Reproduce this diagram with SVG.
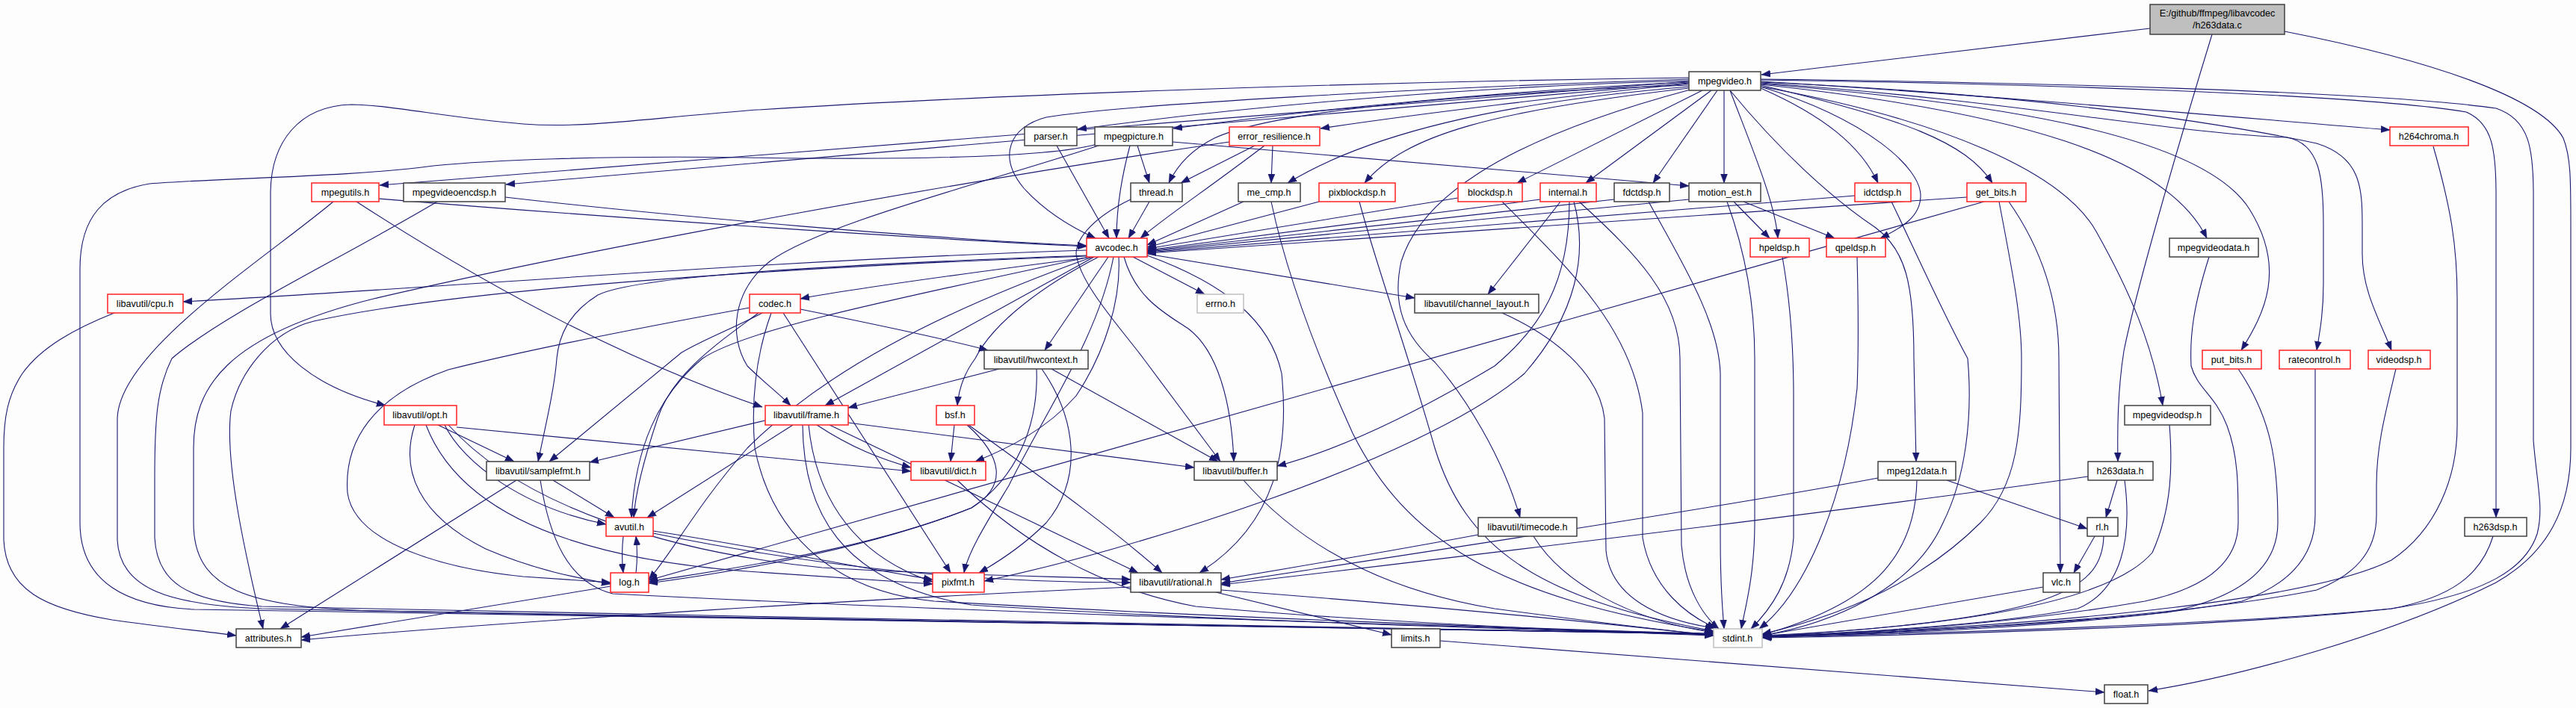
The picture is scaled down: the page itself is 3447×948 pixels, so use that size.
<svg xmlns="http://www.w3.org/2000/svg" width="3447" height="948" viewBox="0 0 3447 948">
<style>
.e path{fill:none;stroke:#191970;stroke-width:1.1;marker-end:url(#a)}
.n rect{fill:#ffffff;stroke:#404040;stroke-width:1.5}
.r rect{stroke:#ff2020}
.g rect{stroke:#bfbfbf}
.root rect{fill:#bfbfbf}
text{font-family:"Liberation Sans",Arial,sans-serif;font-size:12.6px;text-anchor:middle;fill:#000}
</style>
<defs>
<marker id="a" markerUnits="userSpaceOnUse" markerWidth="13" markerHeight="11" refX="12" refY="5" orient="auto"><path d="M0,0.5 L12,5 L0,9.5 z" fill="#191970" stroke="#191970" stroke-width="0.5"/></marker>
</defs>
<rect width="3447" height="948" fill="#fcfdfc"/>
<g id="edges" class="e">
<path d="M2877,38 L2357,100"/>
<path d="M2960,46 C2925,160 2860,380 2842,470 C2834,520 2833,570 2834,618"/>
<path d="M3057,42 C3250,80 3400,130 3430,185 C3440,210 3440,240 3440,300 L3440,600 C3440,680 3410,740 3340,780 C3200,850 3000,905 2875,925"/>
<path d="M2260,108 C2000,115 1700,138 1442,173"/>
<path d="M2260,110 C2000,122 1750,148 1570,172"/>
<path d="M2260,112 C2100,128 1900,152 1767,172"/>
<path d="M2260,114 C1950,125 1700,150 1625,185 C1595,200 1575,222 1564,245"/>
<path d="M2260,116 C2000,138 1830,180 1723,245"/>
<path d="M2260,118 C2000,148 1880,180 1826,245"/>
<path d="M2278,121 L2030,245"/>
<path d="M2290,121 L2122,245"/>
<path d="M2298,121 L2212,245"/>
<path d="M2307,121 L2307,245"/>
<path d="M2260,106 C1900,118 1500,140 1400,157 C1350,170 1335,210 1370,252 C1400,285 1435,305 1466,319"/>
<path d="M2260,104 C1800,110 1300,128 1000,148 C850,160 780,172 700,166 C600,158 520,140 470,140 C400,142 362,190 362,260 L362,420 C362,470 420,518 516,543"/>
<path d="M2260,109 L508,248"/>
<path d="M2260,111 L677,247"/>
<path d="M2262,120 C2000,190 1900,270 1875,350 C1862,410 1880,450 1920,485 C1960,530 2010,610 2034,693"/>
<path d="M2315,121 C2345,200 2375,270 2379,319"/>
<path d="M2356,118 C2440,155 2490,195 2513,245"/>
<path d="M2356,116 C2500,160 2570,225 2570,262 C2570,290 2545,305 2516,319"/>
<path d="M2356,114 C2550,160 2630,190 2666,245"/>
<path d="M2315,121 C2380,200 2450,265 2510,305 C2550,335 2561,380 2561,480 L2564,618"/>
<path d="M2356,116 C2600,160 2760,230 2805,310 C2850,390 2880,460 2894,543"/>
<path d="M2356,113 C2700,150 2900,210 2953,319"/>
<path d="M2356,112 C2700,140 2950,185 3010,280 C3060,360 3030,420 2999,469"/>
<path d="M2356,111 C2700,135 2900,178 3060,184 C3105,192 3109,240 3109,300 L3109,380 C3109,420 3104,445 3100,469"/>
<path d="M2356,110 C2700,125 2950,160 3100,192 C3158,210 3161,250 3161,300 L3161,340 C3161,390 3185,430 3200,469"/>
<path d="M2356,109 C2700,130 3000,158 3198,174"/>
<path d="M2356,107 C2700,112 3150,125 3300,150 C3335,165 3340,200 3340,260 L3340,693"/>
<path d="M2356,106 C2700,110 3180,122 3340,145 C3385,160 3390,200 3390,260 L3390,590 C3395,650 3404,680 3395,715 C3380,760 3330,795 3200,815 C3000,835 2600,848 2359,853"/>
<path d="M1414,195 L1484,319"/>
<path d="M1522,195 L1538,245"/>
<path d="M1512,195 C1500,240 1494,280 1494,319"/>
<path d="M1569,190 L2260,249"/>
<path d="M1468,193 C1400,212 1200,214 1000,211 C800,208 650,215 580,222 C470,237 300,238 200,246 C140,256 107,290 107,360 L107,700 C107,780 170,812 260,816 C600,825 1500,837 2293,848"/>
<path d="M1470,195 C1300,250 1100,300 1030,350 C980,390 975,450 1000,490 C1020,510 1040,525 1058,543"/>
<path d="M1679,195 L1580,245"/>
<path d="M1703,195 L1701,245"/>
<path d="M1692,195 C1620,250 1560,290 1526,319"/>
<path d="M1645,190 C1300,240 800,330 500,400 C300,450 259,520 259,600 L259,700 C259,790 330,812 500,818 C1000,828 1800,840 2293,849"/>
<path d="M1538,270 L1510,319"/>
<path d="M1513,267 C1465,290 1440,318 1440,340 C1445,380 1500,440 1530,480 L1633,618"/>
<path d="M1664,270 L1535,328"/>
<path d="M1701,270 C1720,360 1760,470 1810,580 C1880,720 2000,800 2293,846"/>
<path d="M1765,270 L1535,331"/>
<path d="M1819,270 C1840,350 1880,460 1920,600 C1960,730 2050,800 2293,845"/>
<path d="M1951,265 L1535,333"/>
<path d="M2010,270 C2100,360 2184,440 2198,553 L2198,720 C2210,790 2260,825 2296,841"/>
<path d="M2061,267 L1535,335"/>
<path d="M2088,270 L1991,394"/>
<path d="M2100,270 C2100,380 2060,440 2000,490 C1900,550 1800,600 1709,624"/>
<path d="M2106,270 C2125,340 2110,420 2040,500 C1900,620 1500,740 1317,778"/>
<path d="M2113,270 C2190,340 2248,400 2248,480 L2250,730 C2255,790 2280,825 2300,842"/>
<path d="M2160,267 L1535,336"/>
<path d="M2206,270 C2250,350 2300,430 2302,500 L2302,720 C2302,790 2305,815 2307,842"/>
<path d="M2260,267 L1535,337"/>
<path d="M2320,270 L2368,319"/>
<path d="M2333,270 L2455,319"/>
<path d="M2311,270 C2340,350 2348,420 2348,480 L2348,700 C2348,770 2335,815 2330,842"/>
<path d="M2482,262 L1535,338"/>
<path d="M2531,270 C2560,330 2600,420 2633,480 C2640,560 2630,640 2600,700 C2560,790 2450,835 2358,851"/>
<path d="M2632,264 L1535,339"/>
<path d="M2688,270 C2730,330 2755,400 2755,480 L2757,767"/>
<path d="M2675,270 C2690,350 2705,420 2705,480 C2705,580 2700,650 2650,700 C2560,790 2440,830 2358,849"/>
<path d="M2655,270 L868,777"/>
<path d="M2385,344 C2395,400 2400,460 2400,530 L2400,720 C2395,780 2370,815 2343,842"/>
<path d="M2485,344 C2487,420 2487,470 2485,520 C2470,660 2420,790 2354,842"/>
<path d="M1454,335 C1000,350 600,385 245,404"/>
<path d="M1462,344 C1300,365 1150,385 1071,400"/>
<path d="M1516,344 L1612,394"/>
<path d="M1535,340 L1893,399"/>
<path d="M1483,344 L1398,469"/>
<path d="M1454,342 C1100,355 850,370 800,395 C760,420 748,450 745,480 C742,520 730,570 720,618"/>
<path d="M1464,344 L1104,543"/>
<path d="M1470,344 C1400,380 1330,430 1305,480 C1290,500 1283,520 1281,543"/>
<path d="M1497,344 C1500,400 1480,470 1440,530 C1400,575 1350,600 1305,618"/>
<path d="M1504,344 C1520,400 1560,420 1590,440 C1630,470 1648,540 1651,618"/>
<path d="M1535,342 C1640,380 1700,430 1715,500 C1725,600 1710,700 1605,767"/>
<path d="M1490,344 C1470,450 1400,550 1350,650 C1320,700 1295,740 1290,767"/>
<path d="M1458,344 C1200,400 1000,440 940,480 C880,530 850,600 845,693"/>
<path d="M1462,344 C1250,420 1100,500 1000,600 C930,680 900,740 868,776"/>
<path d="M1454,343 C1000,360 600,390 420,430 C360,445 320,500 309,550 C300,620 330,750 352,842"/>
<path d="M1020,419 C980,440 940,455 912,472 L735,618"/>
<path d="M1015,419 C960,460 900,500 880,560 C860,620 850,660 848,693"/>
<path d="M1003,412 C850,440 700,470 600,495 C500,530 460,590 465,660 C475,730 600,762 700,772 L817,780"/>
<path d="M1048,419 L1272,767"/>
<path d="M1071,414 C1150,430 1250,450 1322,469"/>
<path d="M1032,419 C1010,480 1005,540 1010,600 C1030,700 1100,790 1250,805 C1600,825 2000,840 2293,849"/>
<path d="M1337,494 L1135,546"/>
<path d="M1407,494 L1630,618"/>
<path d="M1394,494 C1440,560 1450,640 1400,700 C1370,730 1340,750 1310,767"/>
<path d="M1387,494 C1390,570 1360,640 1300,680 C1150,740 950,765 868,779"/>
<path d="M1024,563 L789,619"/>
<path d="M1061,569 L866,693"/>
<path d="M1093,569 C1140,600 1180,615 1219,626"/>
<path d="M1135,566 L1598,626"/>
<path d="M1110,569 L1523,767"/>
<path d="M1082,569 C1090,650 1130,740 1248,779"/>
<path d="M1074,569 C1075,680 1120,780 1300,810 C1600,830 2000,842 2293,850"/>
<path d="M1277,569 L1272,618"/>
<path d="M1296,569 C1380,630 1480,700 1555,767"/>
<path d="M1294,569 C1340,610 1350,650 1300,680 C1150,740 950,770 868,781"/>
<path d="M1281,643 C1370,730 1480,790 1600,812 C1800,830 2100,845 2293,851"/>
<path d="M1664,643 C1740,730 1850,790 2000,815 C2150,835 2230,845 2293,850"/>
<path d="M586,569 L688,618"/>
<path d="M595,569 C620,620 700,680 811,702"/>
<path d="M555,569 C535,630 560,690 650,735 C720,765 780,775 817,782"/>
<path d="M611,572 L1219,631"/>
<path d="M570,569 C620,700 800,750 1000,765 C1100,772 1200,778 1248,782"/>
<path d="M600,569 C700,680 900,740 1100,760 C1300,772 1450,772 1513,776"/>
<path d="M740,643 L822,693"/>
<path d="M691,643 L375,842"/>
<path d="M723,643 C735,720 760,780 820,795 C1200,815 1800,835 2293,849"/>
<path d="M834,718 C832,735 832,750 834,767"/>
<path d="M851,767 C853,750 853,735 851,718"/>
<path d="M874,711 C1000,730 1150,760 1248,776"/>
<path d="M874,714 C1100,760 1300,780 1513,780"/>
<path d="M817,785 L403,853"/>
<path d="M1513,786 C1200,800 700,830 403,857"/>
<path d="M1627,793 L1862,850"/>
<path d="M1634,790 C1900,810 2150,835 2293,851"/>
<path d="M2010,419 C2080,450 2140,500 2147,560 L2149,737 C2155,800 2220,830 2294,841"/>
<path d="M2052,718 C2090,780 2180,830 2293,847"/>
<path d="M1978,716 C1850,740 1700,765 1634,776"/>
<path d="M2565,643 C2563,750 2500,810 2358,850"/>
<path d="M2513,640 C2300,680 1900,740 1634,781"/>
<path d="M2605,643 L2793,708"/>
<path d="M2833,643 L2818,693"/>
<path d="M2794,638 C2500,680 2000,740 1634,783"/>
<path d="M2843,643 C2853,720 2840,790 2780,815 C2650,840 2450,848 2358,852"/>
<path d="M2803,718 L2775,767"/>
<path d="M2815,718 C2813,790 2750,830 2358,852"/>
<path d="M2734,786 L2358,851"/>
<path d="M2956,344 C2935,410 2930,450 2932,490 C2940,520 2965,530 2980,570 C2995,610 2995,650 2995,700 C2995,760 2940,790 2870,805 C2700,835 2500,848 2358,852"/>
<path d="M2903,569 C2907,620 2907,680 2880,740 C2820,810 2600,840 2358,851"/>
<path d="M2995,494 C3040,560 3048,620 3048,700 C3048,760 3000,800 2900,820 C2700,840 2500,848 2358,852"/>
<path d="M3098,494 L3098,690 C3098,740 3070,780 3000,805 C2800,840 2500,850 2358,853"/>
<path d="M3206,494 C3190,560 3180,600 3180,650 L3180,690 C3180,740 3150,770 3100,790 C2900,830 2500,850 2358,853"/>
<path d="M3336,718 C3320,770 3280,800 3200,815 C3000,838 2600,850 2358,854"/>
<path d="M3256,196 C3280,280 3288,330 3288,400 L3288,570 C3288,640 3260,710 3200,750 C3100,800 2800,835 2358,853"/>
<path d="M1927,858 L2816,927"/>
<path d="M507,266 C800,290 1200,318 1454,330"/>
<path d="M477,270 C600,350 800,470 1020,545"/>
<path d="M446,270 C350,350 160,470 157,560 L157,723 C160,790 230,810 350,815 C1000,828 1800,843 2293,849"/>
<path d="M676,264 C900,290 1250,320 1454,329"/>
<path d="M585,270 C450,350 300,420 230,480 C210,520 207,560 207,640 L207,720 C210,780 250,805 350,812 C1000,826 1800,840 2293,849"/>
<path d="M153,419 C100,440 55,465 30,500 C10,530 5,560 5,600 L5,723 C8,790 60,815 150,830 C220,840 280,846 316,851"/>
</g>
<g id="n-root" class="n root"><rect x="2877" y="6" width="180" height="40"/><text x="2967" y="22">E:/github/ffmpeg/libavcodec</text><text x="2967" y="38">/h263data.c</text></g>
<g id="n-mpegvideo" class="n"><rect x="2260" y="96" width="96" height="25"/><text x="2308" y="113">mpegvideo.h</text></g>
<g id="n-parser" class="n"><rect x="1371" y="170" width="70" height="25"/><text x="1406" y="187">parser.h</text></g>
<g id="n-mpegpicture" class="n"><rect x="1465" y="170" width="104" height="25"/><text x="1517" y="187">mpegpicture.h</text></g>
<g id="n-error_resilience" class="n r"><rect x="1645" y="170" width="121" height="25"/><text x="1705" y="187">error_resilience.h</text></g>
<g id="n-h264chroma" class="n r"><rect x="3198" y="170" width="105" height="25"/><text x="3250" y="187">h264chroma.h</text></g>
<g id="n-mpegutils" class="n r"><rect x="417" y="245" width="90" height="25"/><text x="462" y="262">mpegutils.h</text></g>
<g id="n-mpegvideoencdsp" class="n"><rect x="540" y="245" width="136" height="25"/><text x="608" y="262">mpegvideoencdsp.h</text></g>
<g id="n-thread" class="n"><rect x="1513" y="245" width="69" height="25"/><text x="1547" y="262">thread.h</text></g>
<g id="n-me_cmp" class="n"><rect x="1657" y="245" width="83" height="25"/><text x="1698" y="262">me_cmp.h</text></g>
<g id="n-pixblockdsp" class="n r"><rect x="1765" y="245" width="102" height="25"/><text x="1816" y="262">pixblockdsp.h</text></g>
<g id="n-blockdsp" class="n r"><rect x="1951" y="245" width="86" height="25"/><text x="1994" y="262">blockdsp.h</text></g>
<g id="n-internal" class="n r"><rect x="2061" y="245" width="75" height="25"/><text x="2098" y="262">internal.h</text></g>
<g id="n-fdctdsp" class="n"><rect x="2160" y="245" width="74" height="25"/><text x="2197" y="262">fdctdsp.h</text></g>
<g id="n-motion_est" class="n"><rect x="2260" y="245" width="96" height="25"/><text x="2308" y="262">motion_est.h</text></g>
<g id="n-idctdsp" class="n r"><rect x="2482" y="245" width="75" height="25"/><text x="2519" y="262">idctdsp.h</text></g>
<g id="n-get_bits" class="n r"><rect x="2632" y="245" width="79" height="25"/><text x="2671" y="262">get_bits.h</text></g>
<g id="n-avcodec" class="n r"><rect x="1454" y="319" width="81" height="25"/><text x="1494" y="336">avcodec.h</text></g>
<g id="n-hpeldsp" class="n r"><rect x="2342" y="319" width="79" height="25"/><text x="2381" y="336">hpeldsp.h</text></g>
<g id="n-qpeldsp" class="n r"><rect x="2444" y="319" width="79" height="25"/><text x="2483" y="336">qpeldsp.h</text></g>
<g id="n-mpegvideodata" class="n"><rect x="2903" y="319" width="119" height="25"/><text x="2962" y="336">mpegvideodata.h</text></g>
<g id="n-cpu" class="n r"><rect x="144" y="394" width="101" height="25"/><text x="194" y="411">libavutil/cpu.h</text></g>
<g id="n-codec" class="n r"><rect x="1003" y="394" width="68" height="25"/><text x="1037" y="411">codec.h</text></g>
<g id="n-errno" class="n g"><rect x="1602" y="394" width="62" height="25"/><text x="1633" y="411">errno.h</text></g>
<g id="n-channel_layout" class="n"><rect x="1893" y="394" width="166" height="25"/><text x="1976" y="411">libavutil/channel_layout.h</text></g>
<g id="n-hwcontext" class="n"><rect x="1317" y="469" width="139" height="25"/><text x="1386" y="486">libavutil/hwcontext.h</text></g>
<g id="n-put_bits" class="n r"><rect x="2947" y="469" width="79" height="25"/><text x="2986" y="486">put_bits.h</text></g>
<g id="n-ratecontrol" class="n r"><rect x="3050" y="469" width="95" height="25"/><text x="3097" y="486">ratecontrol.h</text></g>
<g id="n-videodsp" class="n r"><rect x="3169" y="469" width="83" height="25"/><text x="3210" y="486">videodsp.h</text></g>
<g id="n-opt" class="n r"><rect x="514" y="543" width="97" height="26"/><text x="562" y="560">libavutil/opt.h</text></g>
<g id="n-frame" class="n r"><rect x="1024" y="543" width="111" height="26"/><text x="1079" y="560">libavutil/frame.h</text></g>
<g id="n-bsf" class="n r"><rect x="1253" y="543" width="51" height="26"/><text x="1278" y="560">bsf.h</text></g>
<g id="n-mpegvideodsp" class="n"><rect x="2843" y="543" width="115" height="26"/><text x="2900" y="560">mpegvideodsp.h</text></g>
<g id="n-samplefmt" class="n"><rect x="651" y="618" width="138" height="25"/><text x="720" y="635">libavutil/samplefmt.h</text></g>
<g id="n-dict" class="n r"><rect x="1219" y="618" width="100" height="25"/><text x="1269" y="635">libavutil/dict.h</text></g>
<g id="n-buffer" class="n"><rect x="1598" y="618" width="111" height="25"/><text x="1653" y="635">libavutil/buffer.h</text></g>
<g id="n-mpeg12data" class="n"><rect x="2513" y="618" width="104" height="25"/><text x="2565" y="635">mpeg12data.h</text></g>
<g id="n-h263data" class="n"><rect x="2794" y="618" width="87" height="25"/><text x="2837" y="635">h263data.h</text></g>
<g id="n-avutil" class="n r"><rect x="811" y="693" width="63" height="25"/><text x="842" y="710">avutil.h</text></g>
<g id="n-timecode" class="n"><rect x="1978" y="693" width="132" height="25"/><text x="2044" y="710">libavutil/timecode.h</text></g>
<g id="n-rl" class="n"><rect x="2793" y="693" width="41" height="25"/><text x="2813" y="710">rl.h</text></g>
<g id="n-h263dsp" class="n"><rect x="3298" y="693" width="83" height="25"/><text x="3339" y="710">h263dsp.h</text></g>
<g id="n-log" class="n r"><rect x="817" y="767" width="51" height="26"/><text x="842" y="784">log.h</text></g>
<g id="n-pixfmt" class="n r"><rect x="1248" y="767" width="69" height="26"/><text x="1282" y="784">pixfmt.h</text></g>
<g id="n-rational" class="n"><rect x="1513" y="767" width="121" height="26"/><text x="1573" y="784">libavutil/rational.h</text></g>
<g id="n-vlc" class="n"><rect x="2734" y="767" width="49" height="26"/><text x="2758" y="784">vlc.h</text></g>
<g id="n-attributes" class="n"><rect x="316" y="842" width="87" height="25"/><text x="359" y="859">attributes.h</text></g>
<g id="n-limits" class="n"><rect x="1862" y="842" width="65" height="25"/><text x="1894" y="859">limits.h</text></g>
<g id="n-stdint" class="n g"><rect x="2293" y="842" width="65" height="25"/><text x="2325" y="859">stdint.h</text></g>
<g id="n-float" class="n"><rect x="2816" y="917" width="58" height="25"/><text x="2845" y="934">float.h</text></g>
</svg>
